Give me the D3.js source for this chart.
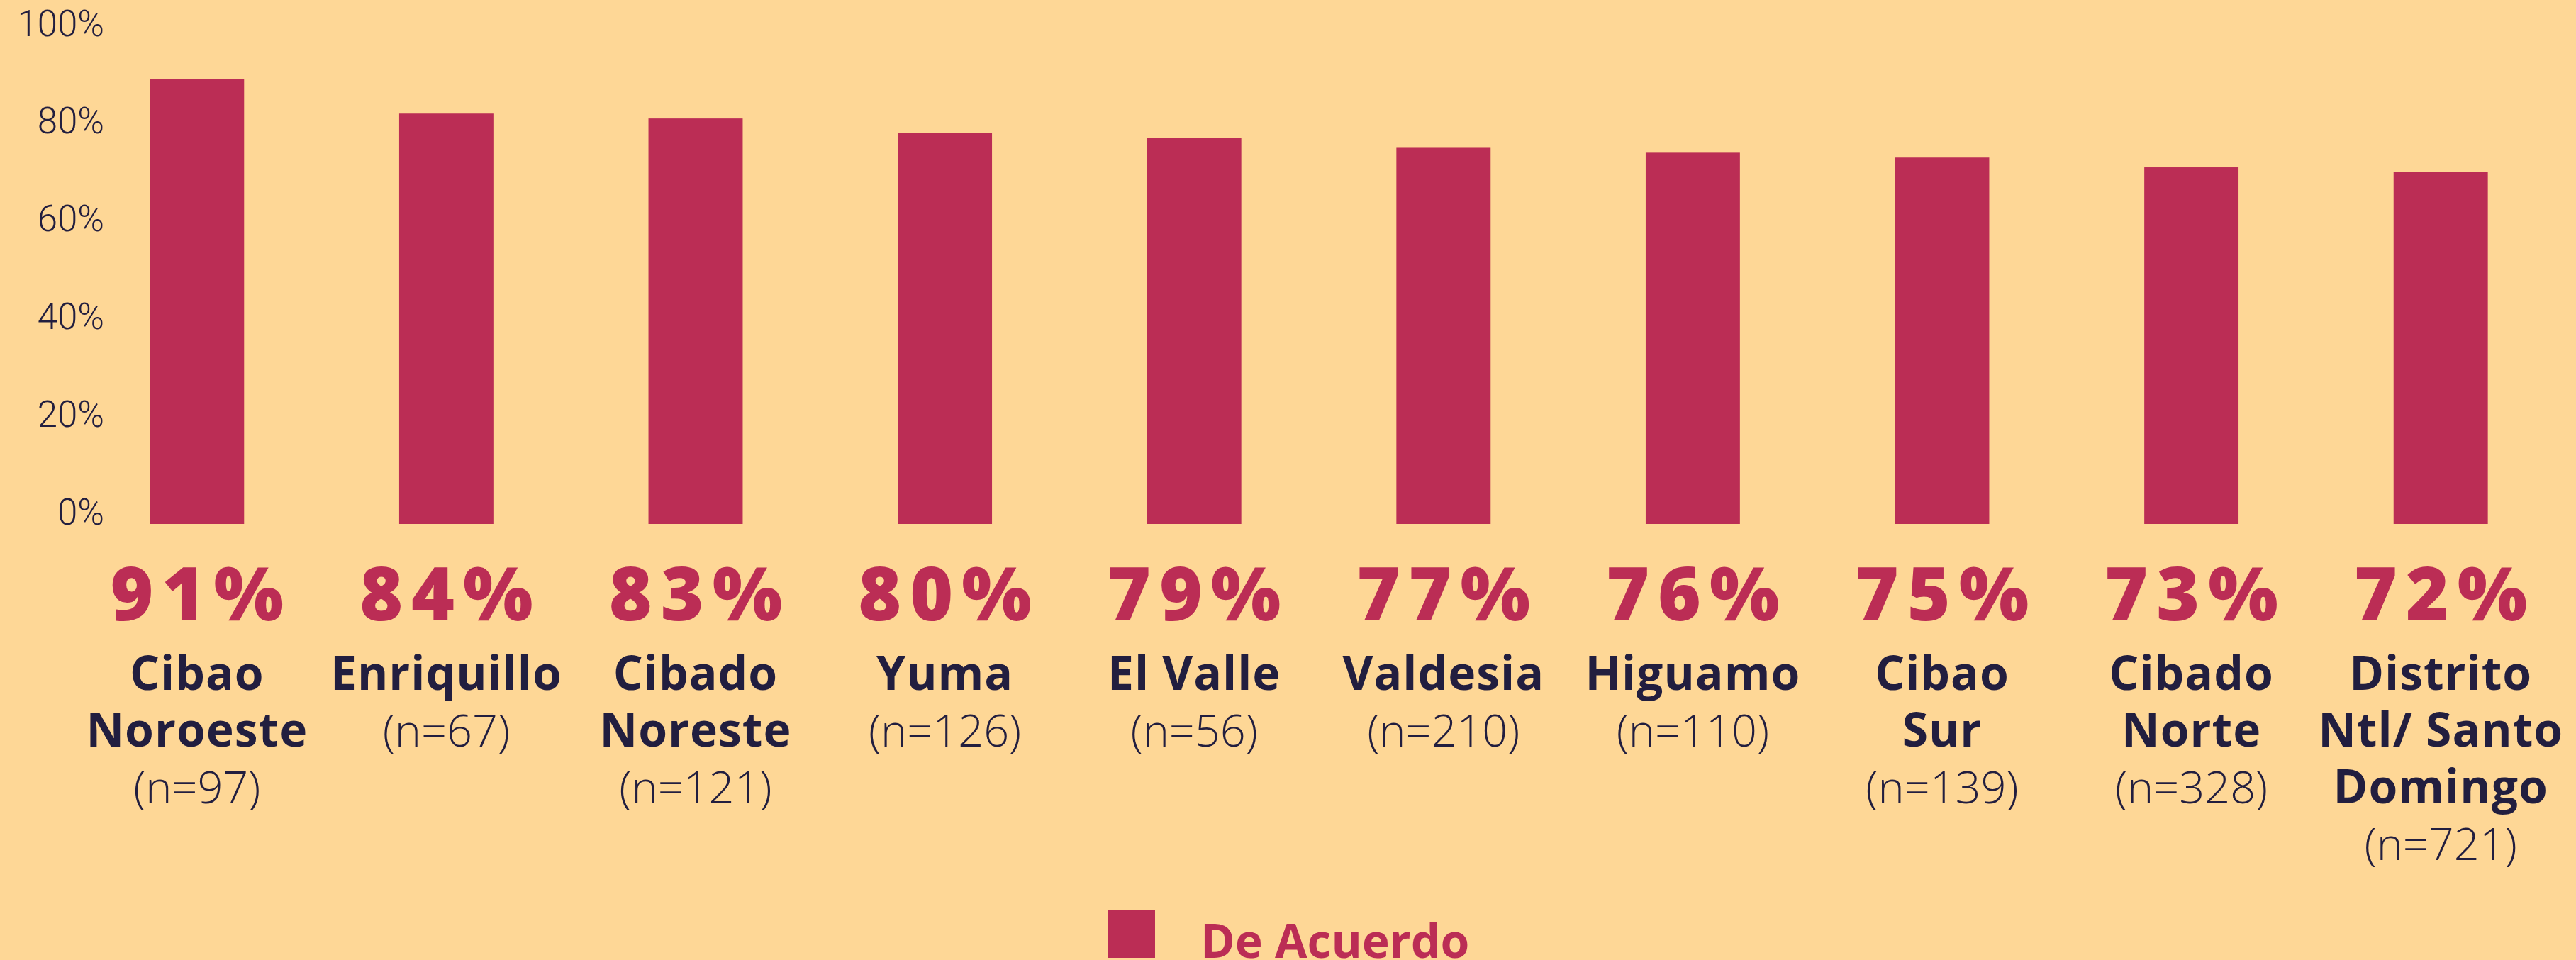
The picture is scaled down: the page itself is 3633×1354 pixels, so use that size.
<!DOCTYPE html>
<html>
<head>
<meta charset="utf-8">
<script src="https://cdn.jsdelivr.net/npm/d3@7"></script>
<style>
    html, body { margin: 0; padding: 0; background: #FED796; }
    #chart { width: 3633px; height: 1354px; }
</style>
</head>
<body>
<div id="chart"></div>
<script>
//Datos
const regiones = ['Cibao Noroeste', 'Enriquillo', 'Cibado Noreste', 'Yuma', 'El Valle', 'Valdesia', 'Higuamo', 'Cibao Sur', 'Cibado Norte', 'Distrito Ntl/ Santo Domingo'];
const lineasRegion = [['Cibao', 'Noroeste'], ['Enriquillo'], ['Cibado', 'Noreste'], ['Yuma'], ['El Valle'], ['Valdesia'], ['Higuamo'], ['Cibao', 'Sur'], ['Cibado', 'Norte'], ['Distrito', 'Ntl/ Santo', 'Domingo']];
const muestras = [97, 67, 121, 126, 56, 210, 110, 139, 328, 721];
const deAcuerdo = [91, 84, 83, 80, 79, 77, 76, 75, 73, 72];
const ticksY = [0, 20, 40, 60, 80, 100];
const serieNombre = 'De Acuerdo';

//Colores fijos
const COLOR_BAR = '#BB2D55',
COLOR_TEXT = '#221E3F',
COLOR_BG = '#FED796';

let width = 3633, height = 1354;

let data = regiones.map(function(d, i) {
    return { region: d, lineas: lineasRegion[i], n: muestras[i], valor: deAcuerdo[i] };
});

let svg = d3.select('#chart')
    .append('svg')
    .attr('width', width)
    .attr('height', height);

svg.append('rect')
    .attr('width', width)
    .attr('height', height)
    .attr('fill', COLOR_BG);

let x = d3.scaleBand()
    .domain(regiones)
    .range([102, 3618])
    .paddingInner(0.622)
    .paddingOuter(0.311);

let y = d3.scaleLinear()
    .domain([0, 100])
    .range([739, 50]);

//Eje Y
let yAxis = function(g) {
    g.call(d3.axisLeft(y).tickValues(ticksY).tickFormat(function(d) { return d + '%'; }).tickSize(0).tickPadding(2));
    g.call(function(g) { g.select('.domain').remove(); });
    g.selectAll('.tick text')
        .attr('dy', '0')
        .attr('fill', COLOR_TEXT)
        .style('font-family', 'Roboto, sans-serif')
        .style('font-weight', 300)
        .style('font-size', '51px');
}

svg.append('g')
    .attr('transform', 'translate(149,0)')
    .call(yAxis);

//Barras
svg.selectAll('.bar')
    .data(data)
    .enter()
    .append('rect')
    .attr('class', 'bar')
    .attr('x', function(d) { return x(d.region); })
    .attr('y', function(d) { return y(d.valor); })
    .attr('width', x.bandwidth())
    .attr('height', function(d) { return y(0) - y(d.valor); })
    .attr('fill', COLOR_BAR);

//Porcentajes
svg.selectAll('.pct')
    .data(data)
    .enter()
    .append('text')
    .attr('class', 'pct')
    .attr('x', function(d) { return x(d.region) + x.bandwidth() / 2 + 6; })
    .attr('y', 875)
    .attr('text-anchor', 'middle')
    .attr('fill', COLOR_BAR)
    .style('font-family', '"Open Sans", sans-serif')
    .style('font-weight', 800)
    .style('font-size', '104px')
    .style('letter-spacing', '12px')
    .text(function(d) { return d.valor + '%'; });

//Etiquetas de región + n
let etiquetas = svg.selectAll('.etiqueta')
    .data(data)
    .enter()
    .append('text')
    .attr('class', 'etiqueta')
    .attr('text-anchor', 'middle')
    .attr('fill', COLOR_TEXT);

etiquetas.each(function(d) {
    let t = d3.select(this);
    let cx = x(d.region) + x.bandwidth() / 2;
    d.lineas.forEach(function(l, i) {
        t.append('tspan')
            .attr('x', cx)
            .attr('y', 973 + i * 80)
            .style('font-family', '"Open Sans", sans-serif')
            .style('font-weight', 700)
            .style('font-size', '66px')
            .style('letter-spacing', '1px')
            .text(l);
    });
    t.append('tspan')
        .attr('x', cx)
        .attr('y', 973 + d.lineas.length * 80)
        .style('font-family', '"Open Sans", sans-serif')
        .style('font-weight', 300)
        .style('font-size', '63px')
        .text('(n=' + d.n + ')');
});

//Leyenda
let leyenda = svg.append('g')
    .attr('transform', 'translate(1562,1351)');

leyenda.append('rect')
    .attr('x', 0)
    .attr('y', -67)
    .attr('width', 67)
    .attr('height', 67)
    .attr('fill', COLOR_BAR);

leyenda.append('text')
    .attr('x', 131)
    .attr('y', 0)
    .attr('fill', COLOR_BAR)
    .style('font-family', '"Open Sans", sans-serif')
    .style('font-weight', 700)
    .style('font-size', '66px')
    .text(serieNombre);
</script>
</body>
</html>
